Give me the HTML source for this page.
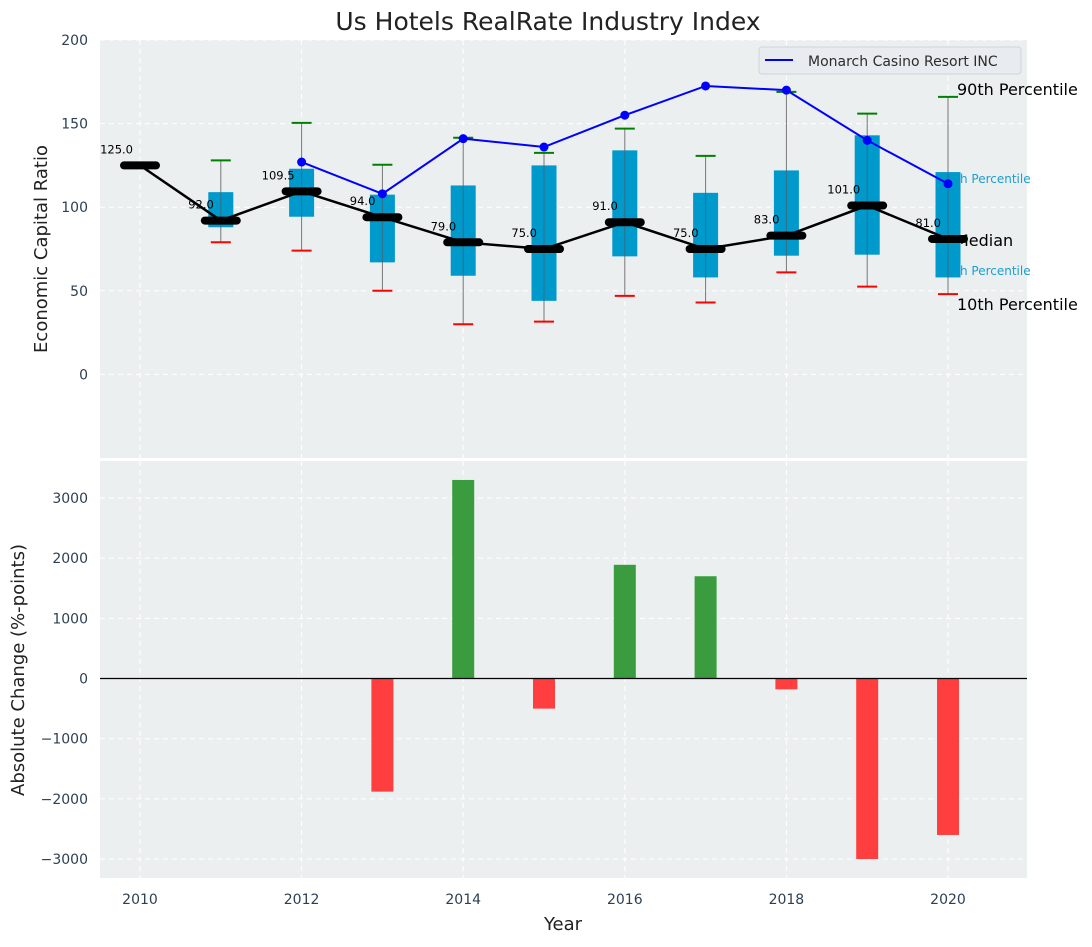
<!DOCTYPE html>
<html><head><meta charset="utf-8"><style>
body{margin:0;background:#fff}
svg text{font-family:"DejaVu Sans","Liberation Sans",sans-serif}
</style></head><body>
<svg id="c" width="1092" height="942" xmlns="http://www.w3.org/2000/svg"></svg>
<script>
const years=[2010,2011,2012,2013,2014,2015,2016,2017,2018,2019,2020];
const medians=[125,92,109.5,94,79,75,91,75,83,101,81];
const p10=[null,79,74,50,30,31.6,47,43,61,52.5,48];
const p25=[null,88,94.3,67,59,44,70.6,58,71,71.6,58];
const p75=[null,109,123,107.5,113,125,134,108.6,122,143,121];
const p90=[null,128,150.4,125.4,141.5,132.5,147,130.7,169,156,166];
const monarchYears=[2012,2013,2014,2015,2016,2017,2018,2019,2020];
const monarch=[127,108,141,136,155,172.5,170,140,114];
const changeYears=[2013,2014,2015,2016,2017,2018,2019,2020];
const changes=[-1880,3300,-500,1890,1700,-180,-3000,-2600];
const topTicks=[0,50,100,150,200];
const botTicks=[-3000,-2000,-1000,0,1000,2000,3000];
const xTicks=[2010,2012,2014,2016,2018,2020];

const svg=document.getElementById('c');const NS='http://www.w3.org/2000/svg';
function el(t,a,p){const e=document.createElementNS(NS,t);for(const k in a)e.setAttribute(k,a[k]);(p||svg).appendChild(e);return e;}
const L=100,R=1027,T1=40,B1=458,T2=461,B2=878;
const X=v=>140+(v-2010)*80.8;
const Y1=v=>B1-(v+50)/250*(B1-T1);
const Y2=v=>B2-(v+3315)/(3615+3315)*(B2-T2);

const bg1=el('rect',{x:L,y:T1,width:R-L,height:B1-T1,fill:'#ebeff0'});

const bg2=el('rect',{x:L,y:T2,width:R-L,height:B2-T2,fill:'#ebeff0'});


xTicks.forEach(t=>{
 el('line',{x1:X(t),x2:X(t),y1:T1,y2:B1,stroke:'#fff','stroke-dasharray':'5,4','stroke-width':1});
 el('line',{x1:X(t),x2:X(t),y1:T2,y2:B2,stroke:'#fff','stroke-dasharray':'5,4','stroke-width':1});
 const tx=el('text',{x:X(t),y:904,'text-anchor':'middle','font-size':14,fill:'#2d3f55'});tx.textContent=t;
 
});
topTicks.forEach(t=>{
 el('line',{x1:L,x2:R,y1:Y1(t),y2:Y1(t),stroke:'#fff','stroke-dasharray':'5,4','stroke-width':1});
 const tx=el('text',{x:88,y:Y1(t)+5,'text-anchor':'end','font-size':14,fill:'#2d3f55'});tx.textContent=t;
 
});
botTicks.forEach(t=>{
 el('line',{x1:L,x2:R,y1:Y2(t),y2:Y2(t),stroke:'#fff','stroke-dasharray':'5,4','stroke-width':1});
 const tx=el('text',{x:88,y:Y2(t)+5,'text-anchor':'end','font-size':14,fill:'#2d3f55'});tx.textContent=String(t).replace('-','\u2212');
 
});
el('line',{x1:L,x2:R,y1:T2-1.5,y2:T2-1.5,stroke:'#fff','stroke-width':3});

[['90th Percentile',957,95,16,'#000'],['Median',955,246,16,'#000'],['10th Percentile',957,310,16,'#000'],
 ['75th Percentile',940,183,12,'#1a9fd0'],['25th Percentile',940,275,12,'#1a9fd0']].forEach(a=>{
 const t=el('text',{x:a[1],y:a[2],'font-size':a[3],fill:a[4]});t.textContent=a[0];
 
});

years.forEach((yr,i)=>{
 if(p10[i]==null)return;
 const x=X(yr);
 const w=el('line',{x1:x,x2:x,y1:Y1(p90[i]),y2:Y1(p10[i]),stroke:'#777','stroke-width':1});
 
 const b=el('rect',{x:x-12.5,y:Y1(p75[i]),width:25,height:Y1(p25[i])-Y1(p75[i]),fill:'#0099cc'});
 
 el('line',{x1:x,x2:x,y1:Y1(p75[i]),y2:Y1(p25[i]),stroke:'#555','stroke-width':1,opacity:0.6});
 const c1=el('line',{x1:x-10,x2:x+10,y1:Y1(p90[i]),y2:Y1(p90[i]),stroke:'green','stroke-width':2});
 
 const c2=el('line',{x1:x-10,x2:x+10,y1:Y1(p10[i]),y2:Y1(p10[i]),stroke:'red','stroke-width':2});
 
});

const mp=el('polyline',{points:years.map((y,i)=>X(y)+','+Y1(medians[i])).join(' '),fill:'none',stroke:'#000','stroke-width':2.5});

years.forEach((yr,i)=>{
 const x=X(yr),y=Y1(medians[i]);
 const m=el('line',{x1:x-16,x2:x+16,y1:y,y2:y,stroke:'#000','stroke-width':8,'stroke-linecap':'round'});
 
 const t=el('text',{x:x-7,y:y-12,'text-anchor':'end','font-size':11.5,fill:'#000'});t.textContent=medians[i].toFixed(1);
 
});

const ml=el('polyline',{points:monarchYears.map((y,i)=>X(y)+','+Y1(monarch[i])).join(' '),fill:'none',stroke:'#0000ff','stroke-width':2});

monarchYears.forEach((yr,i)=>{
 const d=el('circle',{cx:X(yr),cy:Y1(monarch[i]),r:4.5,fill:'#0000ff'});
 
});

changeYears.forEach((yr,i)=>{
 const v=changes[i],x=X(yr);
 const r=el('rect',{x:x-11,y:Math.min(Y2(v),Y2(0)),width:22,height:Math.abs(Y2(v)-Y2(0)),fill:v>=0?'#3a9c3e':'#ff3f3f'});
 
});
const zl=el('line',{x1:L,x2:R,y1:Y2(0),y2:Y2(0),stroke:'#000','stroke-width':1.2});


const lg=el('g',{});
el('rect',{x:759,y:47,width:262,height:27,rx:3,fill:'#e8ebef',stroke:'#d0d4d8'},lg);
el('line',{x1:765,x2:793,y1:60,y2:60,stroke:'#0000ff','stroke-width':2},lg);
const lt=el('text',{x:808,y:66,'font-size':14,fill:'#2d2d2d'},lg);lt.textContent='Monarch Casino Resort INC';

const ti=el('text',{x:548,y:30,'text-anchor':'middle','font-size':25,fill:'#222'});ti.textContent='Us Hotels RealRate Industry Index';

const y1=el('text',{x:0,y:0,'text-anchor':'middle','font-size':18,fill:'#222',transform:'translate(47,249) rotate(-90)'});y1.textContent='Economic Capital Ratio';

const y2=el('text',{x:0,y:0,'text-anchor':'middle','font-size':18,fill:'#222',transform:'translate(24,670) rotate(-90)'});y2.textContent='Absolute Change (%-points)';

const xt=el('text',{x:563,y:930,'text-anchor':'middle','font-size':18,fill:'#222'});xt.textContent='Year';

</script>
</body></html>
